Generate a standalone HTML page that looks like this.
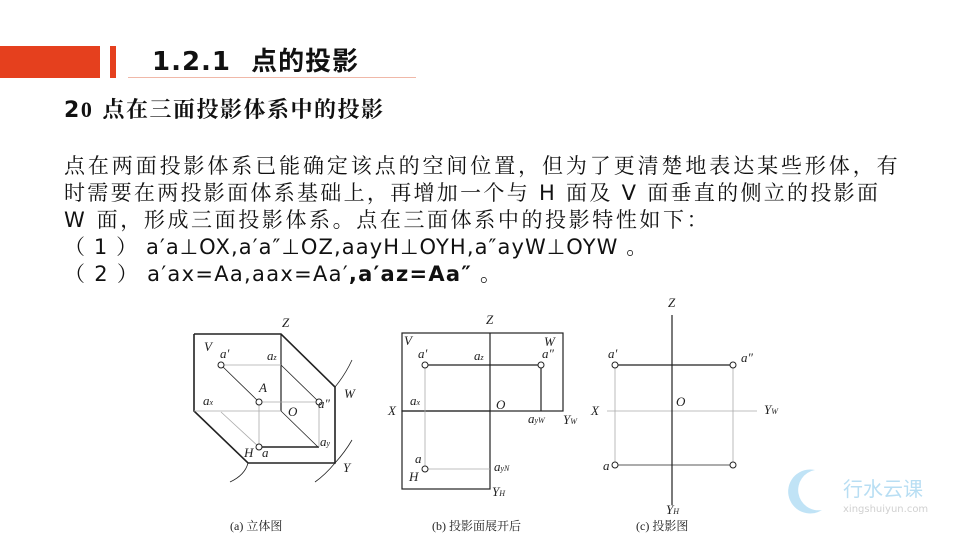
<!DOCTYPE html>
<html><head><meta charset="utf-8"><style>
body{margin:0;width:960px;height:540px;background:#fff;position:relative;overflow:hidden;font-family:"DejaVu Sans","Noto Serif CJK SC",serif;color:#111}
.a{position:absolute;white-space:nowrap}
.p{font-size:21px;letter-spacing:2.9px;left:64px}
svg text{font-family:"Liberation Serif",serif;font-style:italic;font-size:13px;fill:#222}
svg text.c{font-style:normal;font-family:"Liberation Serif","Noto Serif CJK SC",serif;font-size:12px}
</style></head><body>
<div class="a" style="left:0;top:46px;width:100px;height:32px;background:#e5401e"></div>
<div class="a" style="left:110px;top:46px;width:6px;height:32px;background:#e5401e"></div>
<div class="a" style="left:128px;top:77px;width:288px;height:1px;background:#f0b8a8"></div>
<div class="a" style="left:152px;top:41px;font-size:26px;letter-spacing:1px;font-weight:bold;font-family:'DejaVu Sans','Noto Sans CJK SC',sans-serif">1.2.1&nbsp; 点的投影</div>
<div class="a" style="left:64px;top:93px;font-size:22px;letter-spacing:1.5px;font-weight:bold;font-family:'DejaVu Sans','Noto Serif CJK SC',serif">2<span style="font-family:'Liberation Serif'">0</span> 点在三面投影体系中的投影</div>
<div class="a p" style="top:150px">点在两面投影体系已能确定该点的空间位置，但为了更清楚地表达某些形体，有</div>
<div class="a p" style="top:177px;letter-spacing:2.3px">时需要在两投影面体系基础上，再增加一个与 H 面及 V 面垂直的侧立的投影面</div>
<div class="a p" style="top:204px;letter-spacing:2.6px">W 面，形成三面投影体系。点在三面体系中的投影特性如下：</div>
<div class="a p" style="top:231px;letter-spacing:1.1px">（ 1 ） a′a⊥OX,a′a″⊥OZ,aayH⊥OYH,a″ayW⊥OYW 。</div>
<div class="a p" style="top:258px;letter-spacing:1.3px">（ 2 ） a′ax=Aa,aax=Aa′<b>,a′az=Aa″</b> 。</div>
<svg class="a" style="left:0;top:0" width="960" height="540">
<g fill="none" stroke="#222" stroke-width="1.2">
<polyline points="194,334 281,334 335,387 335,463 248,463 194,411 194,334" stroke-width="1.6"/>
<line x1="281" y1="334" x2="281" y2="411"/>
<line x1="221" y1="365" x2="259" y2="402" stroke-width="0.8"/>
<line x1="281" y1="365" x2="319" y2="402" stroke-width="0.8"/>
<line x1="281" y1="411" x2="318" y2="447" stroke-width="0.8"/>
<line x1="259" y1="447" x2="319" y2="447" stroke-width="1.4"/>
<g stroke="#aaa" stroke-width="0.8">
<line x1="221" y1="365" x2="281" y2="365"/><line x1="259" y1="402" x2="319" y2="402"/>
<line x1="259" y1="402" x2="259" y2="447"/><line x1="319" y1="402" x2="319" y2="447"/>
<line x1="194" y1="411" x2="281" y2="411"/><line x1="221" y1="412" x2="259" y2="447"/>
</g>
<path d="M335,387 Q345,375 352,360" stroke-width="0.8"/><path d="M335,463 Q345,452 352,440" stroke-width="0.8"/>
<path d="M335,463 Q325,475 315,482" stroke-width="0.8"/><path d="M248,463 Q245,475 230,482" stroke-width="0.8"/>
<rect x="402" y="333" width="161" height="78"/><rect x="402" y="411" width="88" height="78"/>
<line x1="490" y1="333" x2="490" y2="411"/>
<line x1="425" y1="365" x2="541" y2="365"/><line x1="541" y1="365" x2="541" y2="411"/>
<g stroke="#aaa" stroke-width="0.8"><line x1="425" y1="365" x2="425" y2="469"/><line x1="425" y1="469" x2="490" y2="469"/>
<line x1="607" y1="411" x2="757" y2="411"/><line x1="615" y1="365" x2="615" y2="465"/><line x1="733" y1="365" x2="733" y2="465"/></g>
<line x1="672" y1="315" x2="672" y2="505"/>
<line x1="615" y1="365" x2="733" y2="365"/><line x1="615" y1="465" x2="733" y2="465" stroke-width="0.8"/>
</g>
<g fill="#fff" stroke="#222" stroke-width="1">
<circle cx="221" cy="365" r="3"/><circle cx="259" cy="402" r="3"/><circle cx="319" cy="402" r="3"/><circle cx="259" cy="447" r="3"/>
<circle cx="425" cy="365" r="3"/><circle cx="541" cy="365" r="3"/><circle cx="425" cy="469" r="3"/>
<circle cx="615" cy="365" r="3"/><circle cx="733" cy="365" r="3"/><circle cx="615" cy="465" r="3"/><circle cx="733" cy="465" r="3"/>
</g>
<text x="282" y="327">Z</text><text x="204" y="351">V</text><text x="220" y="358">a′</text><text x="267" y="360">a<tspan font-size="8">z</tspan></text>
<text x="259" y="392">A</text><text x="203" y="405">a<tspan font-size="8">x</tspan></text><text x="288" y="416">O</text><text x="318" y="408">a″</text>
<text x="344" y="398">W</text><text x="320" y="446">a<tspan font-size="8">y</tspan></text><text x="244" y="457">H</text><text x="262" y="457">a</text><text x="343" y="472">Y</text>
<text x="486" y="324">Z</text><text x="404" y="345">V</text><text x="418" y="358">a′</text><text x="474" y="360">a<tspan font-size="8">z</tspan></text>
<text x="544" y="346">W</text><text x="542" y="358">a″</text><text x="388" y="415">X</text><text x="410" y="405">a<tspan font-size="8">x</tspan></text>
<text x="496" y="409">O</text><text x="528" y="423">a<tspan font-size="8">yW</tspan></text><text x="563" y="424">Y<tspan font-size="8">W</tspan></text>
<text x="415" y="463">a</text><text x="409" y="481">H</text><text x="494" y="471">a<tspan font-size="8">yN</tspan></text><text x="492" y="496">Y<tspan font-size="8">H</tspan></text>
<text x="668" y="307">Z</text><text x="608" y="358">a′</text><text x="741" y="362">a″</text><text x="591" y="415">X</text>
<text x="676" y="406">O</text><text x="764" y="414">Y<tspan font-size="8">W</tspan></text><text x="603" y="470">a</text><text x="666" y="514">Y<tspan font-size="8">H</tspan></text>
<text class="c" x="230" y="530">(a) 立体图</text><text class="c" x="432" y="530">(b) 投影面展开后</text><text class="c" x="636" y="530">(c) 投影图</text>
<g opacity="0.55"><path d="M815,470 A22,22 0 1 0 822,510 A17,17 0 1 1 815,470Z" fill="#8ecdf0"/>
<text x="843" y="496" style="font-style:normal;font-family:'Noto Sans CJK SC',sans-serif;font-size:20px;fill:#7fc4ea">行水云课</text>
<text x="843" y="512" style="font-style:normal;font-family:'DejaVu Sans',sans-serif;font-size:10px;fill:#aaa">xingshuiyun.com</text></g>
</svg>
</body></html>
